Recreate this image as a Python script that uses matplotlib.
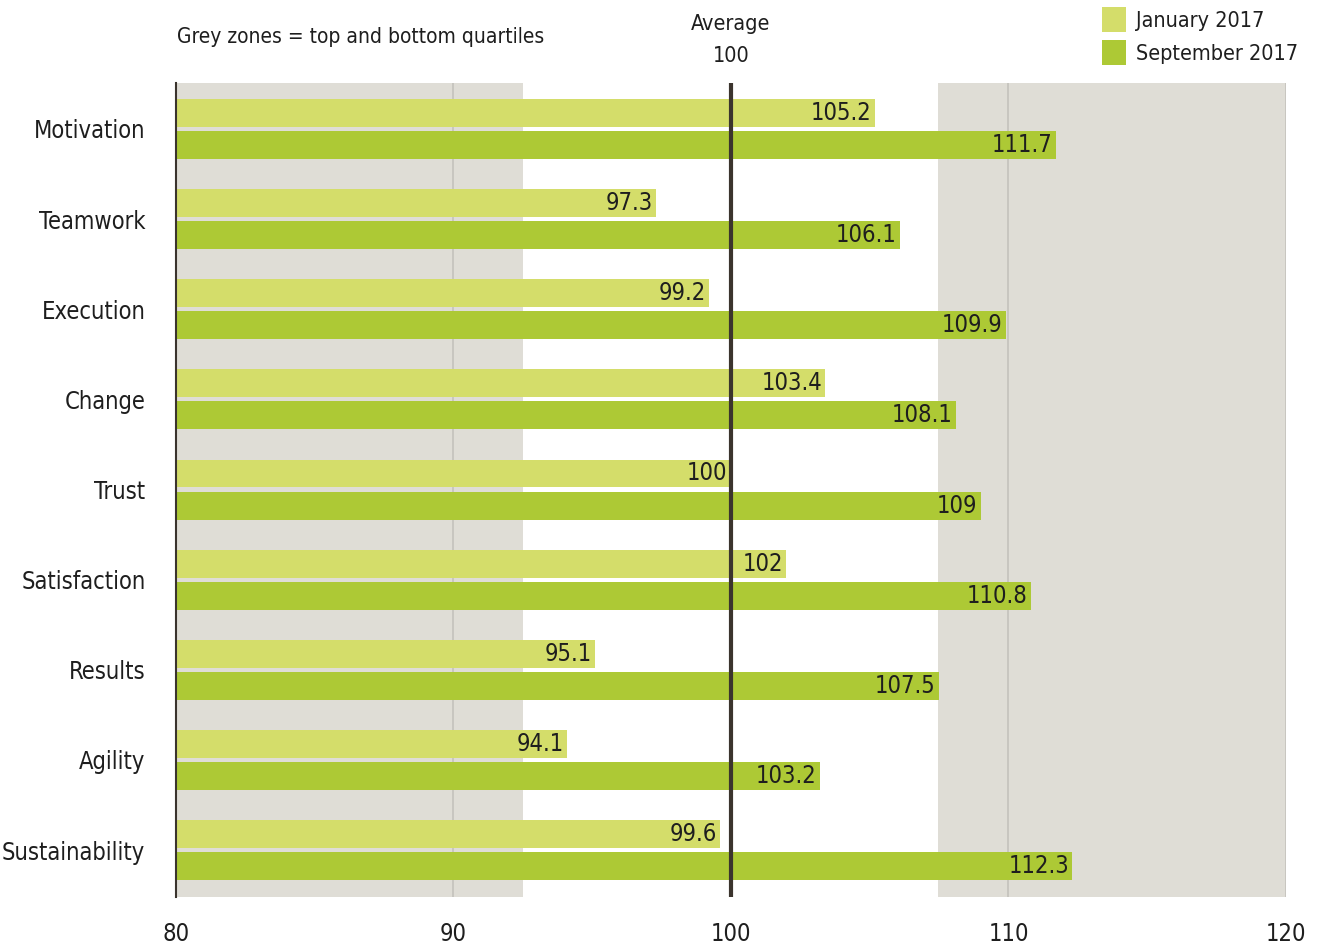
import numpy as np
import matplotlib.pyplot as plt
from matplotlib.patches import Patch

categories = ["Motivation", "Teamwork", "Execution", "Change", "Trust",
              "Satisfaction", "Results", "Agility", "Sustainability"]
jan_2017 = [105.2, 97.3, 99.2, 103.4, 100, 102, 95.1, 94.1, 99.6]
sep_2017 = [111.7, 106.1, 109.9, 108.1, 109, 110.8, 107.5, 103.2, 112.3]
series_names = ["January 2017", "September 2017"]
x_ticks = [80, 90, 100, 110, 120]
average = 100
low_quartile = 92.5
high_quartile = 107.45

light_green = "#d4dd6a"
dark_green = "#adc935"
grey_zone = "#dfddd6"
text_col = "#1e1e1e"

plt.rcParams['font.family'] = ['DejaVu Sans']
plt.rcParams['font.stretch'] = 'condensed'

fig = plt.figure(figsize=(13.2, 9.47), dpi=100)
ax = fig.add_axes([0.1333, 0.0528, 0.8409, 0.8596])

y = np.arange(len(categories))
off = 0.178
h = 0.31

# quartile bands and reference grid
ax.axvspan(80, low_quartile, color=grey_zone, lw=0, zorder=0)
ax.axvspan(high_quartile, 120, color=grey_zone, lw=0, zorder=0)
for gx in [90, 110, 120]:
    ax.axvline(gx, color="#c4c2bc", lw=1.2, zorder=1)

ax.barh(y - off, jan_2017, left=0, height=h, color=light_green, zorder=2)
ax.barh(y + off, sep_2017, left=0, height=h, color=dark_green, zorder=2)

for yi, v in zip(y, jan_2017):
    ax.text(v - 0.12, yi - off, f"{v:g}", ha="right", va="center",
            fontsize=17, color=text_col, zorder=4)
for yi, v in zip(y, sep_2017):
    ax.text(v - 0.12, yi + off, f"{v:g}", ha="right", va="center",
            fontsize=17, color=text_col, zorder=4)

ax.axvline(average, color="#3b342e", lw=3, zorder=3)

ax.set_xlim(80, 120)
ax.set_ylim(8.52, -0.51)
ax.set_xticks(x_ticks)
ax.set_xticklabels([str(t) for t in x_ticks], fontsize=17, color=text_col)
ax.set_yticks(y)
ax.set_yticklabels(categories, fontsize=17, color=text_col)
ax.tick_params(axis="both", length=0)
ax.tick_params(axis="x", pad=18)
ax.tick_params(axis="y", pad=22)

for s in ["top", "right", "bottom"]:
    ax.spines[s].set_visible(False)
ax.spines["left"].set_color("#3b342e")
ax.spines["left"].set_linewidth(1.5)
ax.spines["left"].set_zorder(5)

ax.text(80.05, 1.056, "Grey zones = top and bottom quartiles", transform=ax.get_xaxis_transform(),
        ha="left", va="center", fontsize=15, color=text_col)
ax.annotate(f"Average\n{average}", xy=(average, 1.0), xycoords=("data", "axes fraction"),
            xytext=(0, 12), textcoords="offset points", ha="center", va="bottom",
            fontsize=15.5, color=text_col, linespacing=1.75)

handles = [Patch(facecolor=light_green, label=series_names[0]),
           Patch(facecolor=dark_green, label=series_names[1])]
fig.legend(handles=handles, loc="upper left", bbox_to_anchor=(1102 / 1320, 1 - 7 / 947),
           frameon=False, fontsize=15.5, handlelength=1.1, handleheight=1.4,
           handletextpad=0.5, labelspacing=0.4, borderpad=0, borderaxespad=0,
           labelcolor=text_col)

fig.savefig("out.png", dpi=100)
